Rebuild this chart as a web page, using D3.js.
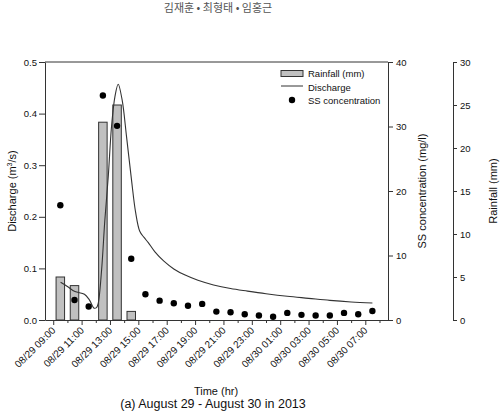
<!DOCTYPE html>
<html>
<head>
<meta charset="utf-8">
<script src="https://cdn.jsdelivr.net/npm/d3@7"></script>
<style>
  body { margin: 0; background: #fff; }
  text { font-family: "Liberation Sans", Arial, sans-serif; fill: #111; }
</style>
</head>
<body>
<div id="chart"></div>
<script>
// hours counted from 08/29 00:00, data sit in the middle of each hour
let hours = d3.range(9.5, 32, 1);
let rainfall = [5, 4, 0, 23, 25, 1, 0, 0, 0, 0, 0, 0, 0, 0, 0, 0, 0, 0, 0, 0, 0, 0, 0];
let ssConc = [17.8, 3.1, 2.1, 34.8, 30.1, 9.5, 4.0, 3.0, 2.6, 2.2, 2.5, 1.3, 1.2, 0.9, 0.7, 0.5, 1.1, 0.8, 0.7, 0.7, 1.1, 0.9, 1.4];
// discharge [hour, m3/s]
let dischargeT = [9.52, 10.0, 10.53, 11.2, 11.55, 11.88, 12.05, 12.17, 12.41, 12.64, 12.88, 13.11, 13.35, 13.58, 13.86, 14.17, 14.52, 14.8, 15.1, 15.4, 15.7, 16.17, 16.8, 17.5, 18.3, 19.2, 20.3, 21.5, 22.7, 24.0, 25.5, 27.0, 28.5, 30.0, 31.5];
let dischargeQ = [0.073, 0.065, 0.055, 0.050, 0.039, 0.023, 0.024, 0.032, 0.097, 0.194, 0.278, 0.375, 0.433, 0.457, 0.426, 0.355, 0.271, 0.21, 0.172, 0.16, 0.15, 0.132, 0.114, 0.099, 0.087, 0.077, 0.068, 0.061, 0.056, 0.051, 0.046, 0.042, 0.038, 0.035, 0.033];
let tickHours = d3.range(9, 33, 1);
let labelHours = d3.range(9, 32, 2);
let tickLabels = ["08/29 09:00", "08/29 11:00", "08/29 13:00", "08/29 15:00", "08/29 17:00", "08/29 19:00",
  "08/29 21:00", "08/29 23:00", "08/30 01:00", "08/30 03:00", "08/30 05:00", "08/30 07:00"];

let width = 500, height = 411;
let pLeft = 45, pRight = 388, pTop = 62, pBottom = 320;

let svg = d3.select("#chart").append("svg")
  .attr("width", width)
  .attr("height", height);

let x = d3.scaleLinear().domain([8.42, 32.6]).range([pLeft, pRight]);
let yQ = d3.scaleLinear().domain([0, 0.5]).range([pBottom, pTop]);
let yS = d3.scaleLinear().domain([0, 40]).range([pBottom, pTop]);
let yR = d3.scaleLinear().domain([0, 30]).range([pBottom, pTop]);

// header
svg.append("text")
  .attr("x", 218).attr("y", 12)
  .attr("text-anchor", "middle")
  .style("font-family", "'Noto Sans CJK KR', sans-serif")
  .style("font-size", "11px")
  .style("fill", "#555")
  .text("김재훈 • 최형태 • 임홍근");

// rain bars
let bw = 8.5;
svg.selectAll(".bar").data(hours.map((h, i) => [h, rainfall[i]]).filter(d => d[1] > 0))
  .enter().append("rect")
  .attr("x", d => x(d[0]) - bw / 2)
  .attr("y", d => yR(d[1]))
  .attr("width", bw)
  .attr("height", d => yR(0) - yR(d[1]))
  .attr("fill", "#c0c0c0")
  .attr("stroke", "#333")
  .attr("stroke-width", 1);

// discharge line
let line = d3.line()
  .x(d => x(d[0]))
  .y(d => yQ(d[1]))
  .curve(d3.curveCatmullRom);
svg.append("path")
  .datum(dischargeT.map((t, i) => [t, dischargeQ[i]]))
  .attr("d", line)
  .attr("fill", "none")
  .attr("stroke", "#333")
  .attr("stroke-width", 1.1);

// SS dots
svg.selectAll(".dot").data(hours.map((h, i) => [h, ssConc[i]]))
  .enter().append("circle")
  .attr("cx", d => x(d[0]))
  .attr("cy", d => yS(d[1]))
  .attr("r", 3.2)
  .attr("fill", "#000");

// frame top line
svg.append("line")
  .attr("x1", pLeft).attr("x2", pRight)
  .attr("y1", pTop).attr("y2", pTop)
  .attr("stroke", "#333");

// left axis
let axL = svg.append("g").attr("transform", "translate(" + pLeft + ",0)")
  .call(d3.axisLeft(yQ).tickValues([0, 0.1, 0.2, 0.3, 0.4, 0.5]).tickFormat(d3.format(".1f")).tickSize(6).tickSizeOuter(0));
// SS axis
let axS = svg.append("g").attr("transform", "translate(" + pRight + ",0)")
  .call(d3.axisRight(yS).tickValues([0, 10, 20, 30, 40]).tickSize(5).tickSizeOuter(0));
// rain axis
let axR = svg.append("g").attr("transform", "translate(453,0)")
  .call(d3.axisRight(yR).tickValues([0, 5, 10, 15, 20, 25, 30]).tickSize(4).tickSizeOuter(0));

// x axis, minor ticks every hour, labels every 2 h
let axX = svg.append("g").attr("transform", "translate(0," + pBottom + ")")
  .call(d3.axisBottom(x).tickValues(tickHours).tickFormat("").tickSize(3).tickSizeOuter(0));
axX.selectAll(".tick line").filter(d => labelHours.includes(d)).attr("y2", 5);

svg.selectAll(".xlab").data(labelHours)
  .enter().append("text")
  .attr("transform", d => "translate(" + (x(d) + 3) + "," + (pBottom + 11) + ") rotate(-45)")
  .attr("text-anchor", "end")
  .style("font-size", "10px")
  .text((d, i) => tickLabels[i]);

[axL, axS, axR, axX].forEach(a => {
  a.selectAll("path, line").attr("stroke", "#333");
  a.selectAll("text").style("font-size", "9.5px").style("font-family", "'Liberation Sans', Arial, sans-serif").attr("fill", "#111");
});
axL.selectAll("text").attr("x", -8);
axS.selectAll("text").attr("x", 8);
axR.selectAll("text").attr("x", 7);

// axis titles
let dlab = svg.append("text")
  .attr("transform", "translate(16,191) rotate(-90)")
  .attr("text-anchor", "middle")
  .style("font-size", "11px");
dlab.append("tspan").text("Discharge (m");
dlab.append("tspan").attr("dy", -4).style("font-size", "7px").text("3");
dlab.append("tspan").attr("dy", 4).text("/s)");

svg.append("text")
  .attr("transform", "translate(426,191) rotate(-90)")
  .attr("text-anchor", "middle")
  .style("font-size", "11px")
  .text("SS concentration (mg/l)");

svg.append("text")
  .attr("transform", "translate(497,191) rotate(-90)")
  .attr("text-anchor", "middle")
  .style("font-size", "11px")
  .text("Rainfall (mm)");

svg.append("text")
  .attr("x", 216).attr("y", 395)
  .attr("text-anchor", "middle")
  .style("font-size", "11px")
  .text("Time (hr)");

svg.append("text")
  .attr("x", 213).attr("y", 408)
  .attr("text-anchor", "middle")
  .style("font-size", "12.5px")
  .text("(a) August 29 - August 30 in 2013");

// legend
let lg = svg.append("g");
lg.append("rect").attr("x", 281).attr("y", 70.5).attr("width", 22).attr("height", 6)
  .attr("fill", "#c0c0c0").attr("stroke", "#333");
lg.append("line").attr("x1", 281).attr("x2", 303).attr("y1", 86).attr("y2", 86).attr("stroke", "#333");
lg.append("circle").attr("cx", 292).attr("cy", 100).attr("r", 3.2).attr("fill", "#000");
let legTxt = ["Rainfall (mm)", "Discharge", "SS concentration"];
lg.selectAll(".lt").data(legTxt).enter().append("text")
  .attr("x", 308).attr("y", (d, i) => 77 + i * 13.5)
  .style("font-size", "9.5px")
  .text(d => d);
</script>
</body>
</html>
